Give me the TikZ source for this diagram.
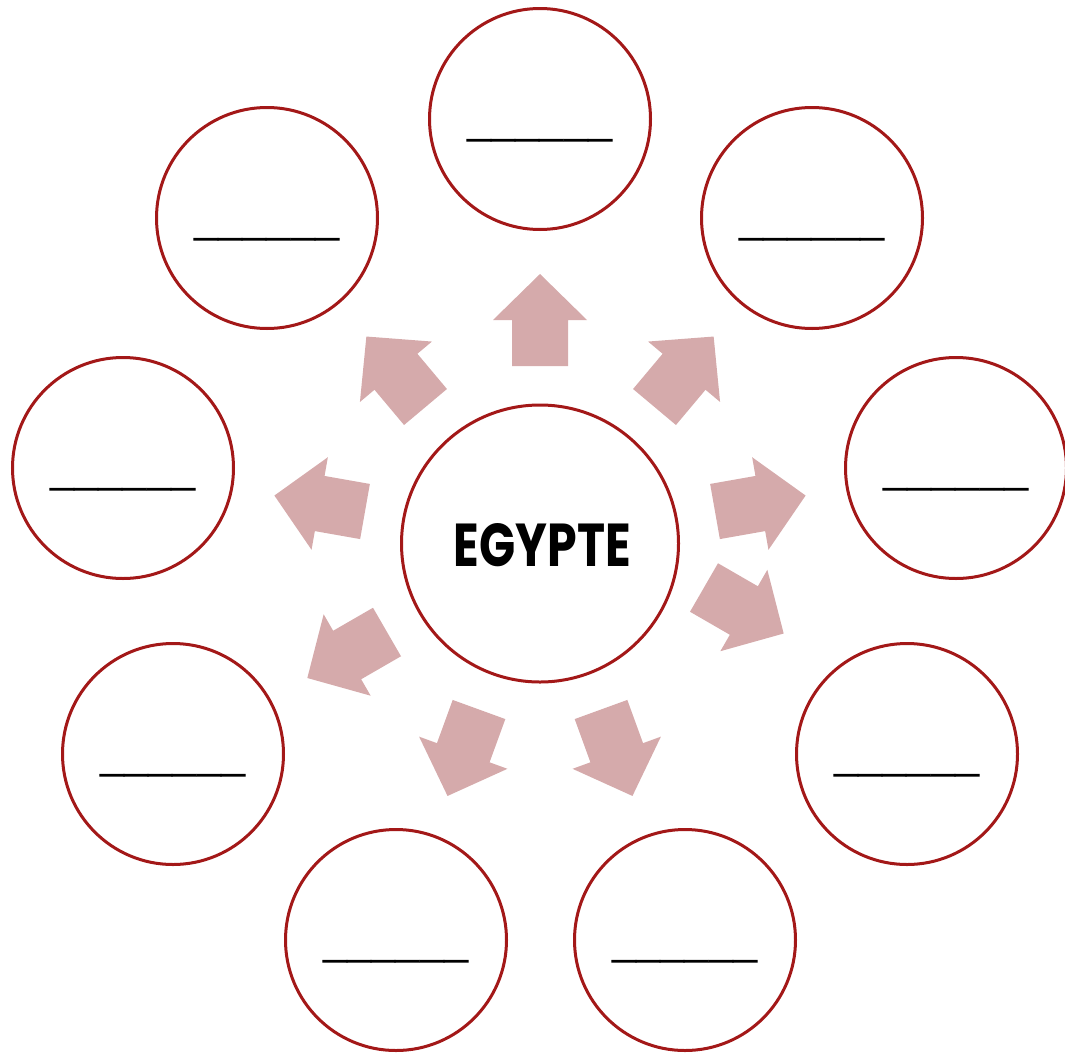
\documentclass[tikz,border=0pt]{standalone}
\usepackage{fontspec}
\newfontfamily\egfont{Poppins}
\newfontfamily\lsfont{Liberation Sans}
\definecolor{ringred}{RGB}{163,24,24}
\definecolor{arrowpink}{RGB}{213,170,171}
\tikzset{
  ring/.style={circle, draw=ringred, line width=3pt, minimum size=221pt, inner sep=0pt, fill=white},
  bigring/.style={ring, minimum size=277pt},
  blank/.style={font=\lsfont\fontsize{43.5}{50}\selectfont, inner sep=0pt, anchor=base},
  blockarrow/.pic={\fill[arrowpink] (0,-28) -- (46,-28) -- (46,-47) -- (92,0) -- (46,47) -- (46,28) -- (0,28) -- cycle;}
}
\begin{document}
\begin{tikzpicture}[x=1pt,y=-1pt]
\useasboundingbox (0,0) rectangle (1065,1055);
% arrows
\pic[rotate=90] at (540,366) {blockarrow};
\pic[rotate=50] at (654.5,407) {blockarrow};
\pic[rotate=10] at (715,511.5) {blockarrow};
\pic[rotate=-30] at (704,587.5) {blockarrow};
\pic[rotate=-70] at (601,709.5) {blockarrow};
\pic[rotate=-110] at (479,709.5) {blockarrow};
\pic[rotate=210] at (387,632) {blockarrow};
\pic[rotate=170] at (365,511.5) {blockarrow};
\pic[rotate=130] at (425.5,407) {blockarrow};
% circles
\node[bigring] (center) at (540,543.5) {};
\node[inner sep=0pt] (title) at (542.5,545) {\resizebox{177pt}{43pt}{\egfont\bfseries EGYPTE}};
\foreach \n/\x/\y in {c1/540/119, c2/812/218, c3/956/468, c4/907/754, c5/685/940, c6/396/940, c7/173/754, c8/123/468, c9/267/218}{
  \node[ring] (\n) at (\x,\y) {};
  \node[blank] (\n-line) at (\x,\y+14.8) {\_\_\_\_\_\_};
}
\end{tikzpicture}
\end{document}
